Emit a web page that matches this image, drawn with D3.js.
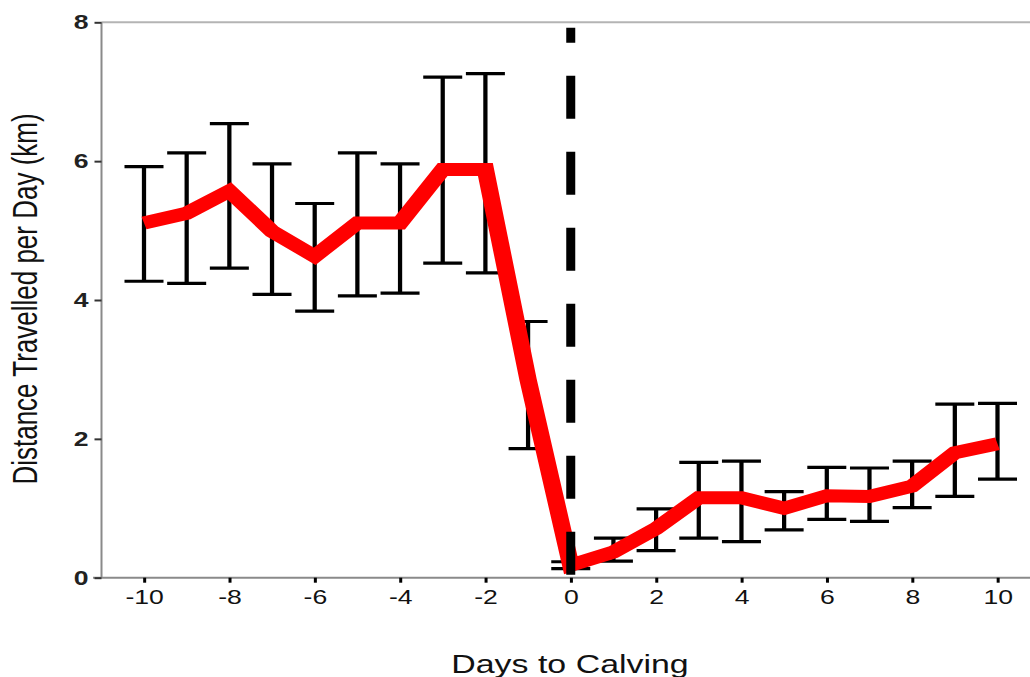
<!DOCTYPE html>
<html>
<head>
<meta charset="utf-8">
<script src="https://cdn.jsdelivr.net/npm/d3@7"></script>
<style>
  body { margin: 0; background: #fff; }
  text { font-family: "Liberation Sans", Arial, sans-serif; }
</style>
</head>
<body>
<svg id="chart"></svg>
<script>
//Data
const days = [-10, -9, -8, -7, -6, -5, -4, -3, -2, -1, 0, 1, 2, 3, 4, 5, 6, 7, 8, 9, 10];
const meanKm = [5.11, 5.25, 5.57, 4.99, 4.63, 5.11, 5.11, 5.88, 5.88, 2.85, 0.18,
                0.37, 0.71, 1.15, 1.15, 1.00, 1.18, 1.17, 1.32, 1.80, 1.93];
const upperKm = [5.92, 6.12, 6.54, 5.96, 5.39, 6.12, 5.96, 7.21, 7.26, 3.69, 0.23,
                 0.57, 0.99, 1.66, 1.68, 1.24, 1.59, 1.58, 1.68, 2.50, 2.51];
const lowerKm = [4.27, 4.24, 4.46, 4.08, 3.84, 4.06, 4.10, 4.53, 4.39, 1.86, 0.13,
                 0.24, 0.39, 0.57, 0.52, 0.69, 0.84, 0.81, 1.01, 1.17, 1.42];
const xTicks = [-10, -8, -6, -4, -2, 0, 2, 4, 6, 8, 10];
const yTicks = [0, 2, 4, 6, 8];
const calvingDay = 0;

const width = 1030;
const height = 677;
//the original picture is stretched sideways, so draw everything in a narrower
//frame and scale it out
const sx = 1.33;

const svg = d3.select("#chart")
    .attr("width", width)
    .attr("height", height);

const g = svg.append("g")
    .attr("transform", "scale(" + sx + ",1)");

//Scales
const scaleX = d3.scaleLinear()
    .domain([-10, 10])
    .range([144 / sx, 997.5 / sx]);

const scaleY = d3.scaleLinear()
    .domain([0, 8])
    .range([577.7, 22.3]);

const left = 101.5 / sx;
const right = width / sx;

//Frame lines
g.append("line")
    .attr("x1", left).attr("x2", right)
    .attr("y1", scaleY(8)).attr("y2", scaleY(8))
    .attr("stroke", "#b4b4b4")
    .attr("stroke-width", 2);

g.append("line")
    .attr("x1", 93 / sx).attr("x2", right)
    .attr("y1", scaleY(0)).attr("y2", scaleY(0))
    .attr("stroke", "#8a8a8a")
    .attr("stroke-width", 2);

g.append("line")
    .attr("x1", left).attr("x2", left)
    .attr("y1", scaleY(8)).attr("y2", scaleY(0))
    .attr("stroke", "#8a8a8a")
    .attr("stroke-width", 2 / sx);

//Left axis
const yAxis = g.append("g")
    .attr("transform", "translate(" + left + ",0)")
    .call(d3.axisLeft(scaleY).tickValues(yTicks).tickSize(7 / sx).tickPadding(6 / sx)
        .tickFormat(d => String(d)));
yAxis.select(".domain").remove();
yAxis.selectAll(".tick line")
    .attr("stroke", "#333")
    .attr("stroke-width", 2);
yAxis.selectAll(".tick text")
    .style("font-size", "20px")
    .style("font-weight", "bold")
    .style("font-family", "'Liberation Sans', Arial, sans-serif")
    .attr("fill", "#222");

//Bottom axis
const xAxis = g.append("g")
    .attr("transform", "translate(0," + scaleY(0) + ")")
    .call(d3.axisBottom(scaleX).tickValues(xTicks).tickSize(5).tickPadding(7)
        .tickFormat(d => String(d)));
xAxis.select(".domain").remove();
xAxis.selectAll(".tick line")
    .attr("stroke", "#000")
    .attr("stroke-width", 3 / sx);
xAxis.selectAll(".tick text")
    .style("font-size", "20px")
    .style("font-family", "'Liberation Sans', Arial, sans-serif")
    .attr("fill", "#111");

//Axis labels
g.append("text")
    .attr("x", 570 / sx)
    .attr("y", 673)
    .attr("text-anchor", "middle")
    .style("font-size", "25.5px")
    .attr("fill", "#111")
    .text("Days to Calving");

g.append("text")
    .attr("text-anchor", "middle")
    .attr("transform", "translate(" + (37 / sx) + ",299)rotate(-90)")
    .style("font-size", "26px")
    .attr("fill", "#111")
    .text("Distance Travelled per Day (km)");

//Error bars
const rows = days.map((d, i) => ({day: d, mean: meanKm[i], hi: upperKm[i], lo: lowerKm[i]}));
const capHalf = 19.5 / sx;

const bars = g.append("g")
    .attr("stroke", "#000")
    .attr("stroke-width", 3.2);

bars.selectAll(".stem")
    .data(rows)
    .enter()
    .append("line")
    .attr("class", "stem")
    .attr("x1", d => scaleX(d.day)).attr("x2", d => scaleX(d.day))
    .attr("y1", d => scaleY(d.hi)).attr("y2", d => scaleY(d.lo));

bars.selectAll(".capHi")
    .data(rows)
    .enter()
    .append("line")
    .attr("class", "capHi")
    .attr("x1", d => scaleX(d.day) - capHalf).attr("x2", d => scaleX(d.day) + capHalf)
    .attr("y1", d => scaleY(d.hi)).attr("y2", d => scaleY(d.hi));

bars.selectAll(".capLo")
    .data(rows)
    .enter()
    .append("line")
    .attr("class", "capLo")
    .attr("x1", d => scaleX(d.day) - capHalf).attr("x2", d => scaleX(d.day) + capHalf)
    .attr("y1", d => scaleY(d.lo)).attr("y2", d => scaleY(d.lo));

//Mean line
const line = d3.line()
    .x(d => scaleX(d.day))
    .y(d => scaleY(d.mean));

g.append("path")
    .datum(rows)
    .attr("d", line)
    .attr("fill", "none")
    .attr("stroke", "#ff0000")
    .attr("stroke-width", 13)
    .attr("stroke-linejoin", "miter")
    .attr("stroke-linecap", "butt");

//Calving day marker
g.append("line")
    .attr("x1", scaleX(calvingDay)).attr("x2", scaleX(calvingDay))
    .attr("y1", scaleY(7.92)).attr("y2", scaleY(0))
    .attr("stroke", "#000")
    .attr("stroke-width", 9 / sx)
    .attr("stroke-dasharray", "43,33")
    .attr("stroke-dashoffset", 28);
</script>
</body>
</html>
